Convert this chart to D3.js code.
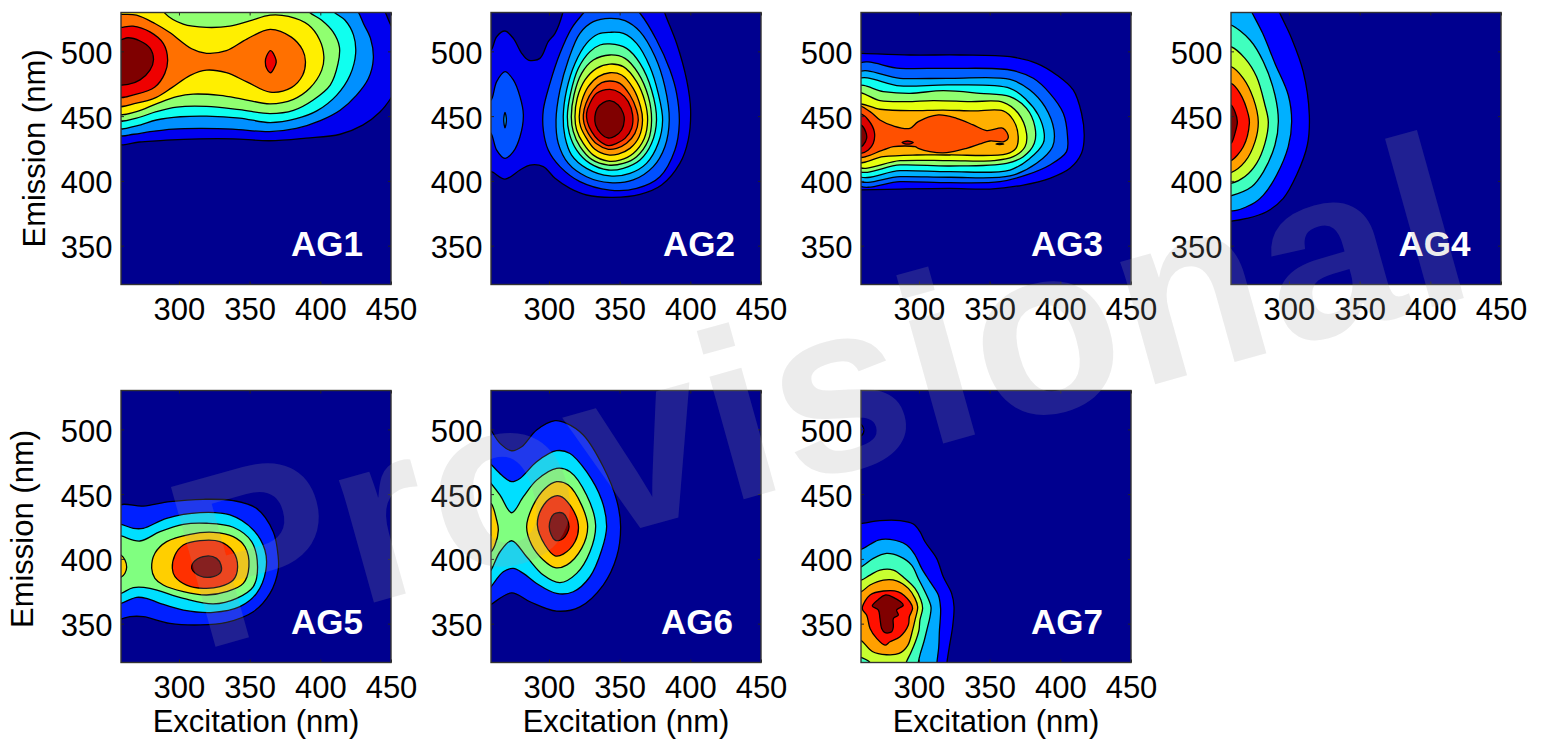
<!DOCTYPE html>
<html>
<head>
<meta charset="utf-8">
<script src="https://cdn.jsdelivr.net/npm/d3@7"></script>
<style>
  html, body { margin: 0; padding: 0; background: #fff; overflow: hidden; }
  svg { display: block; font-family: "Liberation Sans", Arial, sans-serif; }
</style>
</head>
<body>
<div id="chart"></div>
<script>
// axis values (nm)
const excitationDomain = [259, 450];
const emissionDomain = [320, 530];
const excitationTicks = [300, 350, 400, 450];
const emissionTicks = [350, 400, 450, 500];
const panelNames = ["AG1", "AG2", "AG3", "AG4", "AG5", "AG6", "AG7"];

// filled band colours, lowest first
const ag1Colors = ["#00008f", "#0000ef", "#0090ff", "#10ffef", "#90ff70", "#ffef00", "#ff7000", "#ef0000", "#7f0000"];
const ag2Colors = ["#00008f", "#0000ef", "#0050ff", "#00a0ff", "#00f0ff", "#60ffa0", "#aaff50", "#ffe600", "#ff9600", "#ff4600", "#d20000", "#800000"];
const ag3Colors = ["#00008f", "#0000ff", "#0060ff", "#00b0ff", "#10fff0", "#90ff70", "#e6ff10", "#ffb000", "#ff5000", "#dc0000", "#800000"];
const ag4Colors = ["#00008f", "#0000ff", "#00b0ff", "#40ffbe", "#c8ff30", "#ffa000", "#ff1000", "#800000"];
const ag5Colors = ["#00008f", "#0020ff", "#00dfff", "#80ff80", "#ffcf00", "#ff3000", "#800000"];
const ag6Colors = ["#00008f", "#0020ff", "#00dfff", "#80ff80", "#ffcf00", "#ff3000", "#800000"];
const ag7Colors = ["#00008f", "#0000ff", "#00aaff", "#40ffbe", "#c8ff30", "#ffa000", "#ff1000", "#800000"];

// contour outlines: [band, [[excitation, emission], ...]]
const ag1Contours = [
  [1, [[256,429.5],[272,430],[291,431.5],[315,432.5],[338,432.5],[364,431],[390,433],[414,436],[430,443],[442,453],[450,464],[453,470],[453,515],[450,520],[446,530],[444,534],[256,534]]],
  [2, [[256,436],[268,436],[279.5,438],[296,440],[315,440.5],[338,440],[364,438],[383,440.5],[400,446.5],[414,454.5],[425.5,466],[434,479],[437.5,494.5],[435.5,510],[430.5,521.5],[427,530],[424,534],[256,534]]],
  [3, [[256,441.5],[270,442.5],[284,447],[301,449.5],[319.5,450],[343,448.5],[364.5,445],[383,448],[397.5,454],[411.5,466],[421,481.5],[425,498.5],[423.5,512.5],[417.5,524],[410,530],[407,534],[256,534]]],
  [4, [[256,447.5],[270,448.5],[284,453.5],[298.5,457],[319.5,457.5],[343,455],[364.5,452],[381,454.5],[395,462.5],[407,474],[412.5,490.5],[413.5,503.5],[409,515],[401,524],[392.5,530],[390,534],[256,534]]],
  [5, [[256,452.5],[270,453.5],[284,459.5],[298.5,465],[310,467],[329,466],[345.5,463],[364.5,459.5],[381,463],[392.5,471.5],[401,485.5],[402.5,496],[399.5,509],[391.5,520.5],[377.5,527],[364.5,528],[350,523.5],[336,519.5],[319.5,518.5],[303,521],[290,529.5],[288,534],[256,534]]],
  [6, [[256,458.5],[270,460],[284,464.5],[295,472],[308,481.5],[319.5,485.5],[333.5,483.5],[348,476.5],[364.5,468.5],[379.5,472],[387.5,481.5],[389.5,492],[387.5,501],[379.5,511],[364.5,517],[348,509.5],[333.5,500.5],[319.5,498.5],[309,502],[293.5,514.5],[283,521.5],[270,528],[259,528.5],[256,528.5]]],
  [7, [[256,465.5],[270,467],[283,472.5],[290,483],[292,493.5],[289,506],[279.5,515],[267.5,519.5],[259,518.5],[256,518.5]]],
  [7, [[364.8,500.5],[367.9,495.9],[368.8,491.5],[367.2,486.9],[364.8,483.5],[362,486.9],[361.1,492],[362,496.4]]],
  [8, [[256,475],[264,474.5],[272.5,478],[279.5,485.5],[282,493.5],[279.5,502.5],[272.5,508],[264,510.5],[259,509],[256,509]]]
];
const ag2Contours = [
  [1, [[256,505],[259,501],[263,511.3],[268.9,515.7],[274.8,510],[280.7,498.5],[285.4,493.3],[293.6,494.6],[299.5,507.5],[304.3,513.9],[309.7,529.4],[310.5,534],[381,534],[382,529.4],[390.3,506.2],[397.4,477.9],[400.2,454.7],[398.5,431.5],[392.6,413.5],[379.7,396.8],[364.4,389.6],[345.5,387.3],[326.6,389.1],[314.9,394.2],[304.3,402],[296,411],[286.6,412.2],[279.5,408.4],[268.9,401.4],[259,407.1],[256,405]]],
  [2, [[324.3,529.4],[316,517.8],[307.8,498.5],[300.7,475.3],[296,454.7],[296,439.3],[299.5,423.8],[307.8,411],[321.9,399.4],[343.1,392.9],[362,394.2],[378.5,403.2],[389.1,423.8],[392.2,444.4],[390.3,467.6],[385.6,485.6],[376.1,508.8],[364.4,529.4],[360,534],[328,534]]],
  [2, [[268.9,484.3],[274.8,477.9],[279.5,465],[281.9,450.9],[279.5,434.1],[274.8,422.6],[268.9,417.4],[263,423.8],[259,436.7],[255,440],[255,470],[259,462.4],[263,476.6]]],
  [3, [[268.9,452.9],[269.9,447],[268.9,441],[268,447]]],
  [3, [[343.1,525.5],[353.8,523.7],[364.4,515.2],[375,496],[382,472.7],[385.1,447],[382,426.4],[373.8,411],[359.6,400.7],[343.1,398.6],[326.6,403.2],[313.7,413.5],[306.6,429],[305,447],[307.8,470.2],[313.7,493.3],[321.9,513.9],[331.4,522.9]]],
  [4, [[343.1,514.7],[352.6,513.9],[362,506.2],[371.4,488.2],[377.3,467.6],[380.4,447],[377.3,429],[369,413.5],[357.3,405.8],[343.1,403.8],[326.6,409.7],[316,419.9],[311.3,434.1],[310.1,449.6],[312.5,470.2],[318.4,490.7],[326.6,506.2],[334.9,513.4]]],
  [5, [[343.1,505.7],[354.9,502.3],[364.4,490.7],[372.6,470.2],[376.1,447],[372.6,429],[364.4,416.1],[352.6,409.7],[342,408.4],[329,413.5],[319.6,423.8],[314.4,436.7],[313,449.6],[315.3,467.6],[320.8,486.9],[329,499.8],[336.1,504.9]]],
  [6, [[343.1,497.2],[353.8,494.6],[363.2,483],[370.3,465],[372.6,447],[370.3,431.5],[362,418.7],[352.6,413.5],[342,412.2],[330.2,416.6],[322,426.4],[317.2,438],[315.8,449.6],[317.7,466.3],[323.1,483],[331.4,493.3]]],
  [7, [[343.1,490.2],[352.6,488.2],[362,476.6],[367.9,461.2],[369.8,447],[367.4,432.8],[359.6,421.2],[350.2,416.1],[341.9,415.3],[331.4,419.9],[324.3,428.9],[319.6,439.3],[318.4,449.6],[320,463.8],[325.5,477.9],[333.7,486.9]]],
  [8, [[343.1,483.5],[351.4,481.7],[359.6,471.4],[364.8,457.2],[366.2,447],[363.8,434.1],[357.3,425.1],[349,420.7],[341.9,420],[332.5,424.4],[326.6,432.8],[322.4,441.9],[321.4,449.6],[323.1,461.2],[327.8,472.7],[334.9,480.5]]],
  [9, [[343.1,477.1],[350.2,475.3],[357.3,466.3],[362,454.7],[363.2,447],[360.8,436.7],[354.9,429],[347.9,425.1],[342,424.4],[333.7,428.6],[327.8,436.7],[324.8,444.4],[324.3,450.9],[326.2,459.9],[331.4,470.2],[337.3,475.8]]],
  [10, [[343.1,470.7],[350.2,468.1],[356.1,461.2],[359.2,450.9],[358.5,440.6],[353.8,432.8],[347.9,429],[342,427.2],[334.9,431.5],[330.2,438],[327.1,445.7],[326.6,452.1],[329,459.9],[333.7,467.6]]],
  [11, [[343.1,461.9],[349,458.6],[352.6,452.1],[353.3,447],[351.4,439.3],[346.7,434.6],[342,433.1],[336.6,436.7],[333,443.1],[332.5,449.6],[334.2,456],[338.4,460.4]]]
];
const ag3Contours = [
  [1, [[256,498.5],[259,498.5],[293.6,497.2],[329,497.2],[364.4,495.9],[383.2,490.8],[397.4,481.8],[409.1,470.2],[415,452.2],[416.9,434.2],[415,421.3],[406.8,409.7],[392.6,402],[373.8,396.8],[350.2,393.7],[321.9,394.2],[286.6,393.7],[259,393],[256,393]]],
  [2, [[256,489.5],[286.6,486.9],[321.9,486.9],[364.4,485.6],[380.9,479.2],[392.6,467.6],[402.1,452.2],[405.1,434.2],[404.4,422.6],[392.6,412.3],[376.1,404.6],[357.3,399.4],[321.9,398.6],[286.6,399.4],[256,397.6]]],
  [3, [[256,483],[286.6,479.2],[321.9,479.2],[364.4,478.4],[378.5,470.2],[389.1,457.3],[395.5,439.3],[394.5,426.4],[383.2,413.6],[364.4,403.8],[321.9,402.8],[286.6,403.3],[256,401.2]]],
  [4, [[256,477.9],[286.6,473.3],[321.9,474.1],[364.4,471.5],[376.1,462.5],[384.4,450.9],[388.6,436.7],[387.9,429],[378.5,417.4],[364.4,408.4],[321.9,407.1],[286.6,407.9],[256,404.6]]],
  [5, [[256,472.8],[274.8,468.9],[293.6,467.6],[317.2,469.7],[343.1,467.6],[364.4,465],[376.1,456],[382,441.9],[381.6,429],[373.8,418.7],[362,413.6],[321.9,411.5],[286.6,412.3],[256,408.4]]],
  [6, [[256,467.6],[272.4,462],[291.3,461.2],[310.1,462],[336.1,461.2],[359.6,460.7],[370.2,452.2],[376.1,436.7],[375,426.4],[366.7,418.7],[352.6,415.6],[321.9,415.6],[286.6,415.6],[256,411.5]]],
  [7, [[256,458.6],[272.4,455.3],[293.6,454.2],[317.2,454.7],[338.3,454],[359.6,454],[366.7,447],[370.2,434.2],[368.6,425.1],[362,420.8],[321.9,420],[298.4,420],[274.8,418.7],[256,414.8]]],
  [8, [[256,458],[265.4,453.5],[272.4,447],[281.9,442.4],[293.6,440.6],[299.5,445.7],[313.7,450.9],[326.6,448.3],[338.4,443.2],[347.9,438.8],[359.6,440.6],[363.2,433.6],[360.1,430.3],[350.2,430.8],[343.1,428.5],[333.7,425.1],[319.6,421.8],[307.8,422.6],[299.5,425.1],[297.2,426.4],[281.9,426.4],[274.8,423.9],[256,418.7]]],
  [8, [[354.5,428.4],[357,429],[360,428.4],[357,428]]],
  [9, [[288,429.6],[292,430.8],[296,429.6],[292,428.4]]],
  [9, [[256,451.7],[259,451.7],[264.2,447],[268.4,438],[267.7,429],[264.2,423.9],[259,421.3],[256,421.3]]],
  [10, [[256,443.2],[259,443.2],[262.3,438],[263,432.9],[260.6,427.7],[259,426.4],[256,426.4]]]
];
const ag4Contours = [
  [1, [[256,369],[259,369],[270.1,371],[284.2,376.2],[296,386.5],[305.4,404.5],[313,427.7],[314.4,450.9],[310.1,484.3],[301.9,510],[293.6,529.4],[292,534],[256,534]]],
  [2, [[256,378.2],[273.6,381.9],[281.9,389],[291.3,404.5],[299.5,426.4],[301.9,445.7],[299.5,466.3],[290.1,490.7],[281.4,513.9],[274.1,529.4],[272,534],[256,534]]],
  [3, [[256,520.3],[259,520.3],[272.4,508.8],[281.9,492],[290.1,466.3],[292.5,445.7],[290.1,427.7],[281.9,407],[273.6,395.5],[259,388.5],[256,388]]],
  [4, [[256,503.6],[259,503.6],[268.9,494.6],[277.1,480.4],[283,458.6],[285.4,445.7],[283,429],[277.1,413.5],[268.9,403.3],[259,398],[256,398]]],
  [5, [[256,488.2],[259,488.2],[267.7,479.2],[274.8,463.7],[278.3,445.7],[276,430.3],[268.9,414.8],[259,406.3],[256,406]]],
  [6, [[256,475.3],[259,475.3],[265.4,467.6],[271.3,450.9],[272,444.4],[267.7,426.4],[259,415.6],[256,415.6]]],
  [7, [[256,458.6],[259,458.6],[261.8,453.4],[263.5,445.7],[261.8,436.7],[259,429],[256,429]]]
];
const ag5Contours = [
  [1, [[256,440],[274.8,440.8],[293.6,444.2],[317.2,446],[338.4,445],[354.9,439],[366.7,421],[370.2,401.7],[370.2,391.4],[364.4,373.4],[352.6,359.2],[333.7,351],[314.9,349],[293.6,350.2],[274.8,355.4],[265.4,355.4],[259,353.6],[256,353.6]]],
  [2, [[256,427],[259,426.7],[267.7,423.6],[274.8,423.6],[291.3,431.3],[314.9,435.7],[336.1,433.9],[352.6,422.3],[360.8,406.9],[361.5,391.4],[354.9,373.4],[343.1,363.1],[324.3,358.7],[303.1,360.5],[286.6,365.7],[277.1,369.5],[270.1,370.3],[259,365.7],[256,365]]],
  [3, [[256,418],[259,417.7],[272.4,413.8],[286.6,421],[303.1,426.7],[319.6,427.5],[338.4,424.4],[351.4,413.3],[355.6,394],[352.6,378.6],[340.8,369.5],[324.3,365.2],[303.1,369.5],[279.5,377.3],[267.7,377.8],[259,373.4],[256,373]]],
  [4, [[280.7,392.7],[283,404.3],[291.3,413.3],[307.8,419],[324.3,420.5],[338.4,417.2],[346.7,409.4],[349.5,394],[345.5,381.1],[333.7,374.7],[319.6,372.1],[303.1,374.7],[288.9,379.8],[283,385]]],
  [4, [[256,403],[259,403],[261.8,399.1],[263,393.5],[261.8,388.9],[259,385.8],[256,385.8]]],
  [5, [[295.3,392.7],[297.2,403],[303.1,410.7],[314.9,414.1],[329,413.3],[338.4,405.6],[341.5,394],[338.4,383.7],[329,378.6],[317.2,377.3],[305.4,379.8],[297.2,386.3]]],
  [6, [[309,392.7],[311.3,398.6],[319.6,402.2],[326.6,400.4],[329.7,395.3],[329.7,390.1],[324.3,386.3],[314.9,386.8]]]
];
const ag6Contours = [
  [1, [[256,505],[259,499.5],[265.4,489.2],[273.6,483.5],[280.7,486.6],[291.3,499.5],[304.3,506.7],[312.5,504.6],[324.3,495.6],[338.4,471.1],[347.9,445.4],[350.7,424.8],[347.9,401.6],[338.4,379.8],[321.9,363],[305.4,359.7],[286.6,366.9],[273.6,373.8],[259,364.8],[256,363]]],
  [2, [[256,476],[259,473],[266.5,464.7],[273.6,459.6],[279.5,462.1],[291.3,475],[305.4,483.5],[314.9,481.4],[326.6,467.3],[337.3,445.4],[340.8,424.8],[337.3,406.8],[329,386.2],[317.2,374.6],[305.4,373.3],[291.3,381],[281.9,388.8],[274.8,392.6],[267.7,390],[259,378.5],[256,375]]],
  [3, [[256,462],[259,458.3],[265.4,449.3],[273.6,435.6],[281.9,448],[291.3,460.8],[305.4,469.9],[314.9,467.3],[326.6,449.3],[333,426.1],[329,405.5],[319.6,388.8],[307.8,381.6],[296,387.5],[284.2,401.6],[273.6,414],[265.4,405.5],[259,391.3],[256,388]]],
  [4, [[284.2,424.8],[288.9,441.5],[297.2,454.4],[305.4,459.6],[313.7,457],[323.1,441.5],[327.4,424.8],[323.1,408.1],[312.5,395.2],[304.3,393.2],[296,399.1],[287.8,410.7]]],
  [4, [[256,442.8],[259,442.8],[263,430],[264.2,422.2],[261.8,410.7],[259,405.5],[256,405.5]]],
  [5, [[291.8,426.1],[294.8,439],[301.9,447.5],[307.8,448.5],[314.9,441.5],[320.8,426.1],[318.4,413.2],[310.1,403.7],[304.3,402.4],[297.2,410.7]]],
  [6, [[300.2,424.8],[303.5,434.6],[310.1,435.1],[314.2,424.8],[310.1,415.8],[304.3,414.5]]]
];
const ag7Contours = [
  [1, [[256,504],[259,504],[261,499],[259,495],[256,495]]],
  [1, [[256,427.4],[259,427.4],[272.4,429.5],[286.6,429.5],[296,426.9],[300.7,421],[304.3,413.2],[312.5,400.4],[317.2,386.2],[323.1,373.4],[324.8,363],[323.8,347.6],[321.5,332.2],[319.8,320],[319.5,316],[256,316]]],
  [2, [[256,407.3],[259,407.3],[271.3,414.5],[279.5,415],[291.3,410.7],[297.2,403],[301.9,392.7],[307.8,382.4],[313.7,372.1],[315.3,361.8],[315,352],[314.5,345],[314,332],[312.7,320],[312.5,316],[256,316]]],
  [3, [[256,393.9],[259,393.9],[267.7,400.4],[277.1,404.2],[286.6,401.7],[294.8,395.2],[299.5,384.9],[304.3,374.6],[308.5,363],[307.8,355.3],[306,347],[303.5,336],[301,327],[299.5,320],[299,316],[256,316]]],
  [4, [[256,383.6],[259,383.6],[265.4,387.5],[272.4,391.4],[281.9,391.4],[290.1,384.9],[297.2,377.2],[301.4,368.2],[302.6,361.8],[300.7,352.8],[300,345],[297.5,336],[294,327],[291,320],[290.5,316],[265,316],[265.4,320],[259,324],[256,325]]],
  [5, [[256,374.6],[259,374.6],[265.4,379.8],[274.8,383.6],[284.2,383.1],[292.5,377.2],[297.2,369.5],[299.1,363],[297.2,352.8],[295.5,345],[292,333],[286,327],[277,326],[267,328.5],[259,337],[256,337.5]]],
  [6, [[260,363],[265.4,372.1],[274.8,375.2],[285.4,374.6],[293.6,366.9],[295.5,361.8],[293.2,355.3],[292.5,348.9],[286.6,339.9],[279.5,336],[276,333.4],[270.1,338.6],[265.4,346.3],[263,356.6],[260.2,360.5]]],
  [7, [[267,363.6],[271.3,368.7],[276,372.1],[281.9,370.3],[288.9,364.3],[284.2,360.5],[285.4,356.6],[281.9,354],[281.9,347.6],[280.7,343.7],[276,343],[273.6,346.3],[272.4,354],[271.3,360.5]]]
];

const allColors = [ag1Colors, ag2Colors, ag3Colors, ag4Colors, ag5Colors, ag6Colors, ag7Colors];
const allContours = [ag1Contours, ag2Contours, ag3Contours, ag4Contours, ag5Contours, ag6Contours, ag7Contours];

let panelLeft = [121, 491, 861, 1231, 121, 491, 861],
    panelTop = [12.5, 12.5, 12.5, 12.5, 390.5, 390.5, 390.5],
    labelLeft = [170, 172, 170, 167.5, 170, 170, 170],
    panelW = 270,
    panelH = 272;

let svg = d3.select("#chart")
    .append("svg")
    .attr("width", 1544)
    .attr("height", 743);

let x = d3.scaleLinear().domain(excitationDomain).range([0, panelW]);
let y = d3.scaleLinear().domain(emissionDomain).range([panelH, 0]);

let line = d3.line()
    .x(d => x(d[0]))
    .y(d => y(d[1]))
    .curve(d3.curveCatmullRomClosed.alpha(0.5));

panelNames.forEach((name, i) => {
    let g = svg.append("g")
        .attr("transform", `translate(${panelLeft[i]},${panelTop[i]})`);

    g.append("clipPath").attr("id", "clip" + i)
        .append("rect").attr("width", panelW).attr("height", panelH);

    let plot = g.append("g").attr("clip-path", `url(#clip${i})`);

    plot.append("rect")
        .attr("width", panelW)
        .attr("height", panelH)
        .attr("fill", allColors[i][0]);

    plot.selectAll("path")
        .data(allContours[i])
        .enter().append("path")
        .attr("d", d => line(d[1]))
        .attr("fill", d => allColors[i][d[0]])
        .attr("stroke", "#000")
        .attr("stroke-width", 1.3);

    // ticks point inward on all four sides
    let bottom = g.append("g").attr("transform", `translate(0,${panelH})`)
        .call(d3.axisBottom(x).tickValues(excitationTicks).tickSizeInner(-3).tickSizeOuter(0));
    let left = g.append("g")
        .call(d3.axisLeft(y).tickValues(emissionTicks).tickSizeInner(-3).tickSizeOuter(0));
    g.append("g")
        .call(d3.axisTop(x).tickValues(excitationTicks).tickSizeInner(-3).tickSizeOuter(0))
        .selectAll("text").remove();
    g.append("g").attr("transform", `translate(${panelW},0)`)
        .call(d3.axisRight(y).tickValues(emissionTicks).tickSizeInner(-3).tickSizeOuter(0))
        .selectAll("text").remove();

    bottom.selectAll("text")
        .attr("y", 35.5)
        .attr("dy", 0)
        .style("font-size", "31px")
        .style("font-family", "Liberation Sans")
        .style("fill", "#000");
    left.selectAll("text")
        .attr("x", -8.5)
        .attr("dy", 12)
        .style("font-size", "31px")
        .style("font-family", "Liberation Sans")
        .style("fill", "#000");

    g.selectAll(".tick line").attr("stroke", "#222").attr("stroke-width", 1);

    g.append("rect")
        .attr("width", panelW)
        .attr("height", panelH)
        .attr("fill", "none")
        .attr("stroke", "#333")
        .attr("stroke-width", 1.4);

    g.selectAll(".domain").remove();

    g.append("text")
        .attr("x", labelLeft[i])
        .attr("y", 243.5)
        .text(name)
        .style("font-size", "35px")
        .style("font-weight", "bold")
        .style("fill", "#fff");

    if (i >= 4) {
        g.append("text")
            .attr("x", panelW / 2)
            .attr("y", 341)
            .attr("text-anchor", "middle")
            .text("Excitation (nm)")
            .style("font-size", "31px");
    }
});

// y labels, first column only
[[45, 148.5], [33, 529]].forEach(p => {
    svg.append("text")
        .attr("transform", `translate(${p[0]},${p[1]}) rotate(-90)`)
        .attr("text-anchor", "middle")
        .text("Emission (nm)")
        .style("font-size", "31px");
});

// watermark sits on top of everything
svg.append("text")
    .attr("transform", "translate(200,651) rotate(-15.6)")
    .text("Provisional")
    .style("font-size", "241px")
    .style("font-weight", "bold")
    .style("letter-spacing", "3px")
    .style("fill", "rgb(162,162,162)")
    .style("fill-opacity", 0.2);
</script>
</body>
</html>
